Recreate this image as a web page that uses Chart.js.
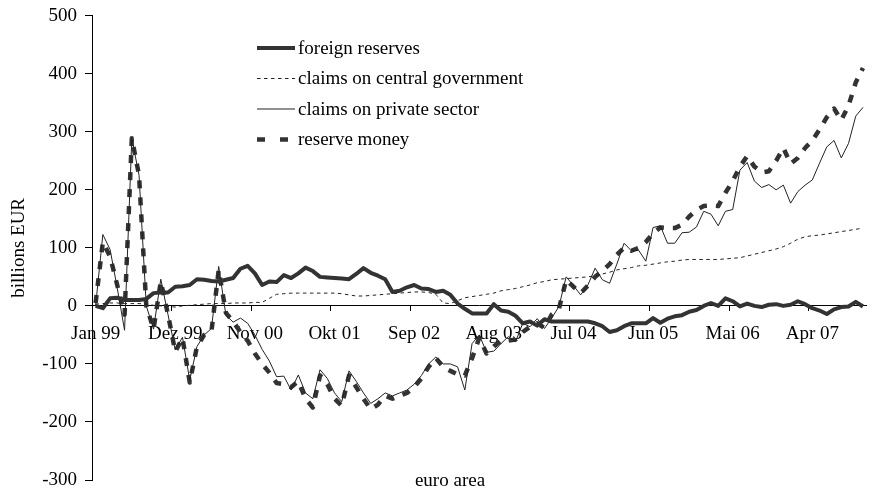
<!DOCTYPE html>
<html lang="en">
<head>
<meta charset="UTF-8">
<title>euro area - monetary aggregates</title>
<script src="https://cdn.jsdelivr.net/npm/chart.js"></script>
<style>
  html, body { margin: 0; padding: 0; background: #fff; }
</style>
</head>
<body>
<canvas id="chart" width="875" height="492"></canvas>
<script>
// months Jan 99 .. Nov 07 (German abbreviations)
const monthNames = ['Jan', 'Feb', 'Mrz', 'Apr', 'Mai', 'Jun', 'Jul', 'Aug', 'Sep', 'Okt', 'Nov', 'Dez'];
const years = ['99', '00', '01', '02', '03', '04', '05', '06', '07'];
const months = [];
years.forEach(y => monthNames.forEach(m => months.push(m + ' ' + y)));
months.length = 107;

const foreignReserves = [
  0, -4, 13, 14, 10, 10, 10, 12, 22, 23,
  23, 33, 34, 36, 46, 45, 43, 42, 45, 48,
  64, 69, 56, 36, 42, 41, 53, 48, 56, 66,
  60, 50, 49, 48, 47, 46, 55, 65, 57, 52,
  46, 24, 26, 32, 36, 30, 29, 24, 26, 19,
  4, -5, -13, -13, -13, 3, -8, -10, -17, -30,
  -27, -34, -23, -27, -27, -27, -27, -27, -27, -30,
  -35, -45, -42, -35, -30, -30, -30, -21, -29, -22,
  -18, -16, -10, -7, 0, 5, 0, 13, 8, -1,
  4, 0, -2, 2, 3, 0, 2, 8, 3, -4,
  -8, -14, -6, -2, -1, 7, -1
];
const claimsGovernment = [
  3, 4, 5, 5, 4, 4, 4, 3, 1, 0,
  -1, -2, 0, 1, 2, 3, 4, 4, 4, 5,
  5, 5, 6, 6, 13, 20, 21, 22, 22, 22,
  22, 22, 22, 22, 21, 19, 17, 17, 18, 19,
  20, 21, 22, 23, 24, 24, 23, 20, 5, 4,
  9, 14, 16, 18, 20, 22, 26, 28, 30, 33,
  36, 40, 42, 45, 46, 47, 48, 49, 50, 52,
  55, 58, 62, 64, 66, 69, 70, 72, 74, 76,
  77, 79, 80, 80, 80, 80, 80, 81, 82, 83,
  86, 89, 92, 95, 98, 102, 108, 115, 119, 121,
  122, 124, 126, 128, 130, 132, 134
];
const claimsPrivate = [
  0, 123, 97, 30, -42, 289, 225, 0, -40, 46,
  -15, -76, -54, -128, -70, -50, -39, 68, -16, -28,
  -21, -30, -50, -75, -95, -122, -121, -145, -119, -150,
  -160, -110, -125, -150, -165, -112, -130, -150, -168, -160,
  -150, -155, -150, -145, -135, -120, -100, -88, -100, -100,
  -105, -145, -65, -50, -80, -78, -65, -53, -62, -30,
  -36, -22, -39, -21, -1, 50, 35, 19, 36, 65,
  45, 39, 72, 108, 95, 96, 77, 135, 138, 108,
  108, 126, 127, 136, 163, 158, 138, 163, 166, 234,
  247, 215, 204, 209, 200, 208, 177, 197, 208, 217,
  246, 274, 285, 255, 280, 327, 342
];
const reserveMoney = [
  5, 110, 85, 35, -15, 289, 225, 0, -40, 42,
  -15, -79, -55, -132, -70, -50, -44, 62, -12, -27,
  -45, -60, -82, -100, -115, -133, -135, -140, -130, -160,
  -175, -120, -135, -160, -172, -120, -140, -160, -178, -170,
  -155, -160, -155, -150, -140, -125, -105, -90, -105, -112,
  -118, -120, -90, -55, -82, -70, -60, -60, -58, -45,
  -36, -30, -38, -15, -5, 45, 33, 22, 35, 50,
  60, 72, 88, 100, 95, 100, 110, 125, 135, 134,
  134, 140, 154, 165, 172, 173, 172, 195, 215, 240,
  258, 240, 230, 232, 250, 272, 245, 255, 272, 285,
  304, 325, 340, 320, 345, 385, 410
];

Chart.defaults.font.family = '"Liberation Serif", "Times New Roman", serif';
Chart.defaults.font.size = 19;
Chart.defaults.color = '#000';

// legend drawn inside the plot, like the original
const boxLegend = {
  id: 'boxLegend',
  afterDatasetsDraw(chart) {
    const ctx = chart.ctx;
    ctx.save();
    ctx.font = '19px "Liberation Serif"';
    ctx.textBaseline = 'middle';
    ctx.textAlign = 'left';
    ctx.fillStyle = '#000';
    chart.data.datasets.forEach((ds, i) => {
      const y = 48 + i * 30.5;
      ctx.beginPath();
      ctx.lineWidth = ds.borderWidth;
      ctx.strokeStyle = ds.borderColor;
      ctx.setLineDash(ds.legendDash || []);
      ctx.moveTo(257, y);
      ctx.lineTo(295, y);
      ctx.stroke();
      ctx.setLineDash([]);
      ctx.fillText(ds.label, 298, y + 1);
    });
    ctx.restore();
  }
};

const bottomNote = {
  id: 'bottomNote',
  afterDraw(chart) {
    const ctx = chart.ctx;
    ctx.save();
    ctx.font = '19px "Liberation Serif"';
    ctx.textAlign = 'center';
    ctx.textBaseline = 'middle';
    ctx.fillStyle = '#000';
    ctx.fillText('euro area', 450, 481);
    ctx.restore();
  }
};

new Chart(document.getElementById('chart'), {
  type: 'line',
  data: {
    labels: months,
    datasets: [
      { label: 'foreign reserves', data: foreignReserves, borderColor: '#333', borderWidth: 4, legendDash: [] },
      { label: 'claims on central government', data: claimsGovernment, borderColor: '#222', borderWidth: 1, borderDash: [3.5, 3.5], legendDash: [3.5, 3.5] },
      { label: 'claims on private sector', data: claimsPrivate, borderColor: '#222', borderWidth: 1, legendDash: [] },
      { label: 'reserve money', data: reserveMoney, borderColor: '#333', borderWidth: 4.5, borderDash: [8, 9], legendDash: [8, 15] }
    ]
  },
  options: {
    responsive: false,
    animation: false,
    devicePixelRatio: 1,
    layout: { padding: { left: 0, right: 0, top: 15.7, bottom: 12 } },
    elements: {
      point: { radius: 0, hoverRadius: 0 },
      line: { tension: 0, borderJoinStyle: 'round', fill: false }
    },
    plugins: {
      legend: { display: false },
      tooltip: { enabled: false }
    },
    scales: {
      x: {
        offset: true,
        position: { y: 0 },
        grid: {
          offset: true,
          drawOnChartArea: false,
          tickLength: 5,
          color: 'rgba(0,0,0,0)',
          tickColor: c => (c.index % 11 === 0 ? '#000' : 'rgba(0,0,0,0)')
        },
        border: { color: '#000', width: 1 },
        ticks: {
          autoSkip: false,
          maxRotation: 0,
          padding: 12,
          callback: (v, i) => (i % 11 === 0 ? months[i] : '')
        }
      },
      y: {
        min: -300,
        max: 500,
        ticks: { stepSize: 100, padding: 8 },
        grid: { drawOnChartArea: false, tickLength: 7, color: '#000' },
        border: { color: '#000', width: 1 },
        title: { display: true, text: 'billions EUR', padding: { top: 8, bottom: 0 } },
        // fixed axis box so the plot starts where the original one does
        afterFit: s => { s.width = 92; s.paddingTop = 0; s.paddingBottom = 0; }
      }
    }
  },
  plugins: [boxLegend, bottomNote]
});
</script>
</body>
</html>
